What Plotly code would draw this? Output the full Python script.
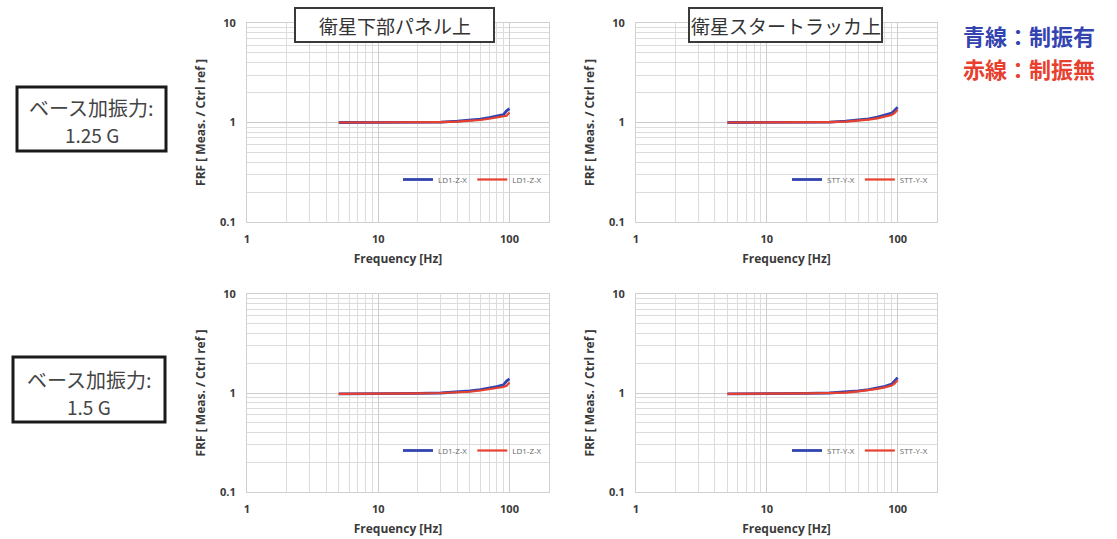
import plotly.graph_objects as go

# ---------------- data ----------------
freq = [5, 10, 20, 30, 40, 50, 60, 70, 80, 90, 95, 100]

# top-left: 1.25 G, 衛星下部パネル上
tl_blue = [1.00, 1.00, 1.00, 1.01, 1.03, 1.05, 1.08, 1.12, 1.16, 1.20, 1.31, 1.38]
tl_red = [1.00, 1.00, 1.00, 1.01, 1.02, 1.04, 1.06, 1.09, 1.12, 1.15, 1.17, 1.26]
# top-right: 1.25 G, 衛星スタートラッカ上
tr_blue = [1.00, 1.00, 1.00, 1.01, 1.03, 1.06, 1.09, 1.13, 1.18, 1.24, 1.33, 1.42]
tr_red = [1.00, 1.00, 1.00, 1.01, 1.02, 1.04, 1.07, 1.10, 1.14, 1.19, 1.25, 1.34]
# bottom-left: 1.5 G, 衛星下部パネル上
bl_blue = [0.98, 0.98, 0.99, 1.00, 1.02, 1.05, 1.08, 1.12, 1.16, 1.21, 1.32, 1.39]
bl_red = [0.98, 0.98, 0.99, 1.00, 1.01, 1.03, 1.06, 1.09, 1.12, 1.15, 1.18, 1.28]
# bottom-right: 1.5 G, 衛星スタートラッカ上
br_blue = [0.98, 0.98, 0.99, 1.00, 1.02, 1.05, 1.08, 1.12, 1.17, 1.23, 1.33, 1.43]
br_red = [0.98, 0.98, 0.99, 1.00, 1.01, 1.04, 1.07, 1.10, 1.14, 1.19, 1.25, 1.35]

legend_names = ["LD1-Z-X", "STT-Y-X"]
panel_titles = ["衛星下部パネル上", "衛星スタートラッカ上"]
row_line1 = ["ベース加振力:", "ベース加振力:"]
row_line2 = ["1.25 G", "1.5 G"]
key_texts = ["青線：制振有", "赤線：制振無"]

x_major = [1, 10, 100]
x_major_text = ["1", "10", "100"]
x_minor = [2, 3, 4, 5, 6, 7, 8, 9, 20, 30, 40, 50, 60, 70, 80, 90, 200]
y_major = [0.1, 1, 10]
y_major_text = ["0.1", "1", "10"]
y_minor = [0.2, 0.3, 0.4, 0.5, 0.6, 0.7, 0.8, 0.9, 2, 3, 4, 5, 6, 7, 8, 9]
x_label = "Frequency [Hz]"
y_label = "FRF [ Meas. / Ctrl ref ]"

# ---------------- layout geometry ----------------
W, H = 1117, 539


def px_x(p):
    return p / W


def px_y(p):
    return 1 - p / H


x_domains = [(px_x(247), px_x(549)), (px_x(636), px_x(937))]
y_domains = [(px_y(222), px_y(23)), (px_y(492), px_y(294))]
legend_tops = [150, 421]
legend_left = [397, 786]

BLUE = "#3344b0"
RED = "#e8402e"
FONT = "Open Sans"
TXT = "#3a3a3a"

fig = go.Figure()
panels = [
    (0, 0, tl_blue, tl_red),
    (0, 1, tr_blue, tr_red),
    (1, 0, bl_blue, bl_red),
    (1, 1, br_blue, br_red),
]

shapes = []
annotations = []
for i, (r, c, yb, yr) in enumerate(panels):
    idx = "" if i == 0 else str(i + 1)
    xa, ya = "x" + idx, "y" + idx
    lg = "legend" + idx
    name = legend_names[c]
    fig.add_trace(go.Scatter(x=freq, y=yb, mode="lines", name=name,
                             line=dict(color=BLUE, width=2.8),
                             xaxis=xa, yaxis=ya, legend=lg))
    fig.add_trace(go.Scatter(x=freq, y=yr, mode="lines", name=name,
                             line=dict(color=RED, width=2.2),
                             xaxis=xa, yaxis=ya, legend=lg))
    axis_common = dict(type="log", showgrid=True, gridcolor="#cccccc", gridwidth=1,
                       showline=True, linecolor="#d0d0d0", mirror=True,
                       ticks="", zeroline=False, automargin=False,
                       tickfont=dict(family=FONT, size=11, color=TXT, weight="bold"))
    xd = x_domains[c]
    yd = y_domains[r]
    fig.update_layout({
        "xaxis" + idx: dict(axis_common, domain=list(xd), anchor=ya,
                            range=[0, 2.301], tickvals=x_major, ticktext=x_major_text,
                            minor=dict(showgrid=True, tickvals=x_minor, gridcolor="#dcdcdc",
                                       gridwidth=1, ticks=""),
                            ticklabelstandoff=7,
                            title=dict(text=x_label, standoff=9,
                                       font=dict(family=FONT, size=12, color=TXT, weight="bold"))),
        "yaxis" + idx: dict(axis_common, domain=list(yd), anchor=xa,
                            range=[-1, 1], tickvals=y_major, ticktext=y_major_text,
                            minor=dict(showgrid=True, tickvals=y_minor, gridcolor="#dcdcdc",
                                       gridwidth=1, ticks=""),
                            ticklabelstandoff=8,
                            title=dict(text=y_label, standoff=11,
                                       font=dict(family=FONT, size=12, color=TXT, weight="bold"))),
    })
    # white legend area covering the grid
    lx0 = px_x(legend_left[c])
    top_px = legend_tops[r]
    shapes.append(dict(type="rect", xref="paper", yref="paper", layer="between",
                       x0=lx0, x1=xd[1] - 1.5 / W, y0=px_y(top_px + 58), y1=px_y(top_px),
                       fillcolor="white", line=dict(width=0)))
    fig.update_layout({
        lg: dict(orientation="h", x=lx0 + 1 / W, y=px_y(top_px + 29.5), xanchor="left",
                 yanchor="middle", bgcolor="rgba(0,0,0,0)",
                 itemwidth=30, font=dict(family=FONT, size=8, color="#666666"),
                 tracegroupgap=0)
    })

# panel title boxes
title_boxes = [(295, 494), (689, 882)]
for t, (x0, x1) in zip(panel_titles, title_boxes):
    shapes.append(dict(type="rect", xref="paper", yref="paper", layer="above",
                       x0=px_x(x0), x1=px_x(x1), y0=px_y(42), y1=px_y(8),
                       fillcolor="white", line=dict(color="#3a3a3a", width=2)))
    annotations.append(dict(text=t, xref="paper", yref="paper", x=px_x((x0 + x1) / 2),
                            y=px_y(26), xanchor="center", yanchor="middle", showarrow=False,
                            font=dict(family="Noto Sans CJK JP", size=19, color="#333333")))

# row label boxes
row_boxes = [(17, 166, 87, 151, 108, 134), (13, 165, 357, 422, 379, 406)]
for t1, t2, (x0, x1, y0, y1, c1, c2) in zip(row_line1, row_line2, row_boxes):
    shapes.append(dict(type="rect", xref="paper", yref="paper", layer="above",
                       x0=px_x(x0), x1=px_x(x1), y0=px_y(y1), y1=px_y(y0),
                       fillcolor="white", line=dict(color="#1a1a1a", width=3)))
    cx = px_x((x0 + x1) / 2)
    annotations.append(dict(text=t1, xref="paper", yref="paper", x=cx, y=px_y(c1),
                            xanchor="center", yanchor="middle", showarrow=False,
                            font=dict(family="Noto Sans CJK JP", size=20, color="#444444")))
    annotations.append(dict(text=t2, xref="paper", yref="paper", x=cx, y=px_y(c2),
                            xanchor="center", yanchor="middle", showarrow=False,
                            font=dict(family="Noto Sans CJK JP", size=19, color="#444444")))

# colour key
for t, col, cy in zip(key_texts, [BLUE, RED], [35, 68]):
    annotations.append(dict(text="<b>" + t + "</b>", xref="paper", yref="paper",
                            x=px_x(961), y=px_y(cy), xanchor="left", yanchor="middle",
                            showarrow=False,
                            font=dict(family="Noto Sans CJK JP", size=22, color=col)))

fig.update_layout(width=W, height=H, margin=dict(l=0, r=0, t=0, b=0),
                  paper_bgcolor="white", plot_bgcolor="white",
                  shapes=shapes, annotations=annotations, showlegend=True)

fig.write_html("out.html")
